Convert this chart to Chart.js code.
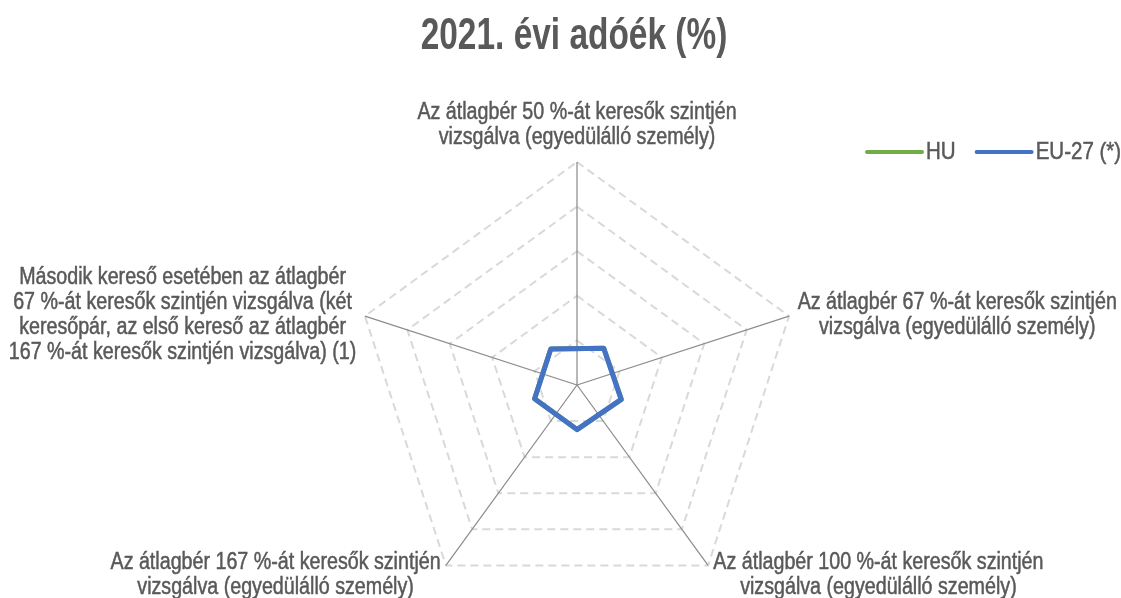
<!DOCTYPE html>
<html lang="hu">
<head>
<meta charset="utf-8">
<title>2021. évi adóék (%)</title>
<script src="https://cdn.jsdelivr.net/npm/chart.js@4.4.1/dist/chart.umd.min.js"></script>
<style>
    html, body { margin: 0; background: #ffffff; height: 598px; overflow: hidden; }
    canvas { display: block; }
</style>
</head>
<body>
<!-- a vászon kicsit magasabb az ablaknál: az alsó feliratok az eredetin is le vannak vágva -->
<canvas id="radarChart" width="1121" height="608"></canvas>
<script>
// Kategóriák (tengelyek feliratai, soronként)
const kategoriak = [
    ['Az átlagbér 50 %-át keresők szintjén', 'vizsgálva (egyedülálló személy)'],
    ['Az átlagbér 67 %-át keresők szintjén', 'vizsgálva (egyedülálló személy)'],
    ['Az átlagbér 100 %-át keresők szintjén', 'vizsgálva (egyedülálló személy)'],
    ['Az átlagbér 167 %-át keresők szintjén', 'vizsgálva (egyedülálló személy)'],
    ['Második kereső esetében az átlagbér', '67 %-át keresők szintjén vizsgálva (két',
     'keresőpár, az első kereső az átlagbér', '167 %-át keresők szintjén vizsgálva) (1)']
];

// Sorozatok (a skála minimuma alatti értékek az ellenkező oldalra kerülnek, mint az eredetin)
const sorozatNevek = ['HU', 'EU-27 (*)'];
const adatHU = [0, 0, 0, -0.2, -0.5];
const adatEU = [0, 0, 0, -0.2, -0.4];

// Skála
const skalaMin = 10;
const skalaMax = 60;
const skalaLepes = 10;

const CIM = '2021. évi adóék (%)';
const BETU = "'Liberation Sans', Arial, sans-serif";
const SZURKE = '#595959';
const SOR_MAGASSAG = 25;
const KESKENY = 0.855; // vízszintes összenyomás a keskeny betűhöz

// szöveg kirajzolása vízszintesen összenyomva, kicsit vastagítva
function keskenySzoveg(ctx, s, x, y, sx, vastag) {
    ctx.save();
    ctx.translate(x, y);
    ctx.scale(sx, 1);
    ctx.fillText(s, 0, 0);
    if (vastag) {
        ctx.strokeStyle = ctx.fillStyle;
        ctx.lineWidth = vastag;
        ctx.strokeText(s, 0, 0);
    }
    ctx.restore();
}

// Cím
const cimRajzolo = {
    id: 'cimRajzolo',
    afterDraw(chart) {
        const ctx = chart.ctx;
        ctx.save();
        ctx.font = 'bold 44px ' + BETU;
        ctx.fillStyle = SZURKE;
        ctx.textAlign = 'center';
        ctx.textBaseline = 'middle';
        keskenySzoveg(ctx, CIM, 574, 37, 0.76, 0);
        ctx.restore();
    }
};

// Tengelyfeliratok Excel-szerű elhelyezéssel
const tengelyFeliratok = {
    id: 'tengelyFeliratok',
    afterDraw(chart) {
        const scale = chart.scales.r;
        const ctx = chart.ctx;
        ctx.save();
        ctx.font = '23px ' + BETU;
        ctx.fillStyle = SZURKE;
        ctx.textAlign = 'center';
        ctx.textBaseline = 'middle';
        chart.data.labels.forEach(function (sorok, i) {
            const fok = Math.round(scale.getIndexAngle(i) * 180 / Math.PI) % 360;
            const p = scale.getPointPosition(i, scale.drawingArea + (fok === 0 ? 12 : 9));
            const w = KESKENY * Math.max.apply(null, sorok.map(s => ctx.measureText(s).width));
            const h = sorok.length * SOR_MAGASSAG;
            let cx = p.x;
            if (fok > 0 && fok < 180) cx = p.x + w / 2;
            else if (fok > 180) cx = p.x - w / 2;
            let teteje = p.y - h / 2 + 2;
            if (fok === 0) teteje = p.y - h;
            else if (fok === 180) teteje = p.y;
            sorok.forEach(function (s, k) {
                keskenySzoveg(ctx, s, cx, teteje + SOR_MAGASSAG * (k + 0.5), KESKENY, 0.5);
            });
        });
        ctx.restore();
    }
};

// Jelmagyarázat a jobb felső sarokban
const jelmagyarazat = {
    id: 'jelmagyarazat',
    afterDraw(chart) {
        const ctx = chart.ctx;
        ctx.save();
        ctx.font = '24px ' + BETU;
        ctx.textBaseline = 'middle';
        ctx.textAlign = 'left';
        let x = 867;
        const y = 152;
        chart.data.datasets.forEach(function (ds) {
            ctx.strokeStyle = ds.borderColor;
            ctx.lineWidth = 4;
            ctx.lineCap = 'round';
            ctx.beginPath();
            ctx.moveTo(x, y);
            ctx.lineTo(x + 55, y);
            ctx.stroke();
            ctx.fillStyle = SZURKE;
            keskenySzoveg(ctx, ds.label, x + 59, y, KESKENY, 0.5);
            x += 59 + KESKENY * ctx.measureText(ds.label).width + 21;
        });
        ctx.restore();
    }
};

document.addEventListener('DOMContentLoaded', function () {
    var ctx = document.getElementById('radarChart').getContext('2d');

    var myChart = new Chart(ctx, {
        type: 'radar',
        data: {
            labels: kategoriak,
            datasets: [{
                label: sorozatNevek[0],
                data: adatHU,
                borderColor: '#70AD47',
                borderWidth: 5,
                fill: false,
                pointRadius: 0,
                borderJoinStyle: 'round',
                order: 1
            }, {
                label: sorozatNevek[1],
                data: adatEU,
                borderColor: '#4472C4',
                borderWidth: 5,
                fill: false,
                pointRadius: 0,
                borderJoinStyle: 'round',
                order: 0
            }]
        },
        options: {
            responsive: false,
            animation: false,
            layout: {
                padding: { left: 33, right: 0, top: 162, bottom: 0 }
            },
            plugins: {
                legend: { display: false },
                tooltip: { enabled: false },
                title: { display: false }
            },
            scales: {
                r: {
                    min: skalaMin,
                    max: skalaMax,
                    ticks: { display: false, stepSize: skalaLepes },
                    pointLabels: { display: false },
                    grid: { color: '#D9D9D9', lineWidth: 2 },
                    border: { dash: [8, 5] },
                    angleLines: { color: '#8C8C8C', lineWidth: 1.25 }
                }
            }
        },
        plugins: [cimRajzolo, tengelyFeliratok, jelmagyarazat]
    });
});
</script>
</body>
</html>
